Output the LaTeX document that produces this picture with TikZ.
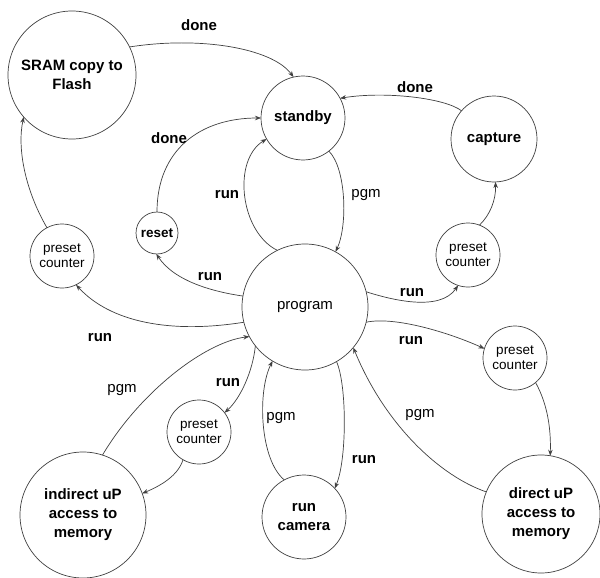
\documentclass[tikz,border=0pt]{standalone}
\usepackage{fontspec}
\setmainfont{Liberation Sans}
\usetikzlibrary{arrows.meta}
\begin{document}
\begin{tikzpicture}[x=1pt,y=-1pt,
  state/.style={circle,draw=black!75,line width=0.7pt,inner sep=0pt,outer sep=0pt,
    align=center,font=\fontsize{15}{19}\selectfont\bfseries},
  plainstate/.style={state,font=\fontsize{15}{19}\selectfont},
  counter/.style={circle,draw=black!75,line width=0.7pt,inner sep=0pt,outer sep=0pt,
    minimum size=64pt,align=center,font=\fontsize{13.5}{15}\selectfont},
  edge/.style={draw=black!75,line width=0.7pt,-{Stealth[length=6pt,width=4.5pt]}},
  lbl/.style={inner sep=0pt,font=\fontsize{15}{17}\selectfont\bfseries},
  plbl/.style={inner sep=0pt,font=\fontsize{15}{17}\selectfont}]
\useasboundingbox[fill=white] (0,0) rectangle (600,578);

% states
\node[state,minimum size=128pt] (sram) at (72,75) {SRAM copy to\\Flash};
\node[state,minimum size=84pt] (standby) at (303,118) {standby};
\node[state,minimum size=86pt] (capture) at (494,139) {capture};
\node[state,minimum size=42pt,font=\fontsize{13.5}{15}\selectfont\bfseries] (reset) at (157,233) {reset};
\node[counter] (pcl) at (62,256) {preset\\counter};
\node[counter] (pctr) at (468,255) {preset\\counter};
\node[plainstate,minimum size=126pt] (program) at (305,307) {program};
\node[counter] (pcr) at (515,358) {preset\\counter};
\node[counter] (pcb) at (199,432) {preset\\counter};
\node[state,minimum size=126pt] (indirect) at (83,515) {indirect uP\\access to\\memory};
\node[state,minimum size=84pt] (camera) at (304,517) {run\\camera};
\node[state,minimum size=118pt] (direct) at (541,514) {direct uP\\access to\\memory};

% transitions
\draw[edge] (sram.26) .. controls (200,36) and (272,48) .. (standby.103);
\draw[edge] (capture.139) .. controls (445,98) and (385,91) .. (standby.28);
\draw[edge] (reset.90) .. controls (157,150) and (200,118) .. (standby.180);
\draw[edge] (program.116) .. controls (240,232) and (232,160) .. (standby.210);
\draw[edge] (standby.308) .. controls (346,168) and (348,225) .. (program.61);
\draw[edge] (program.170) .. controls (215,292) and (175,282) .. (reset.268);
\draw[edge] (program.194) .. controls (170,334) and (110,322) .. (pcl.296);
\draw[edge] (pcl.118) .. controls (25,190) and (17,148) .. (sram.221);
\draw[edge] (program.14) .. controls (392,300) and (440,312) .. (pctr.252);
\draw[edge] (pctr.69) .. controls (490,215) and (496,200) .. (capture.272);
\draw[edge] (program.346) .. controls (395,316) and (450,333) .. (pcr.163);
\draw[edge] (pcr.310) .. controls (548,405) and (551,430) .. (direct.81);
\draw[edge] (direct.158) .. controls (440,476) and (385,425) .. (program.320);
\draw[edge] (program.300) .. controls (347,385) and (347,460) .. (camera.43);
\draw[edge] (camera.118) .. controls (260,460) and (257,392) .. (program.239);
\draw[edge] (program.218) .. controls (253,370) and (241,398) .. (pcb.37);
\draw[edge] (pcb.240) .. controls (178,476) and (160,486) .. (indirect.20);
\draw[edge] (indirect.72) .. controls (140,392) and (205,342) .. (program.208);

% transition labels
\node[lbl] (l1) at (199,25) {done};
\node[lbl] (l2) at (415,87) {done};
\node[lbl] (l3) at (169,138) {done};
\node[lbl] (l4) at (227,195) {run};
\node[plbl] (l5) at (366,195) {pgm};
\node[lbl] (l6) at (210,277) {run};
\node[lbl] (l7) at (100,338) {run};
\node[lbl] (l9) at (412,293) {run};
\node[lbl] (l11) at (411,341) {run};
\node[plbl] (l13) at (420,415) {pgm};
\node[lbl] (l14) at (364,460) {run};
\node[plbl] (l15) at (281,418) {pgm};
\node[lbl] (l16) at (228,383) {run};
\node[plbl] (l18) at (122,390) {pgm};
\end{tikzpicture}
\end{document}
